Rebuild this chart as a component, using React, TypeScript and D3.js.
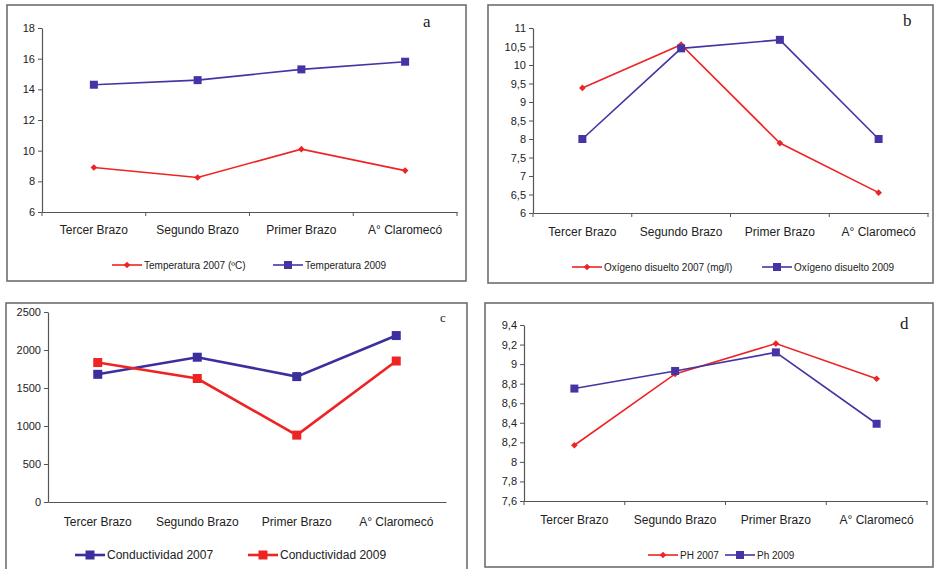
import { useEffect, useRef } from 'react';
import * as d3 from 'd3';

const categories = ['Tercer Brazo', 'Segundo Brazo', 'Primer Brazo', 'A° Claromecó'];

const temp2007 = [8.9, 8.25, 10.1, 8.7];
const temp2009 = [14.3, 14.6, 15.3, 15.8];
const oxy2007 = [9.38, 10.55, 7.89, 6.55];
const oxy2009 = [8.0, 10.45, 10.68, 8.0];
const cond2007 = [1680, 1905, 1650, 2190];
const cond2009 = [1835, 1625, 880, 1855];
const ph2007 = [8.17, 8.9, 9.21, 8.85];
const ph2009 = [8.75, 8.93, 9.12, 8.39];

const tempTicks = [6, 8, 10, 12, 14, 16, 18];
const oxyTicks = [6, 6.5, 7, 7.5, 8, 8.5, 9, 9.5, 10, 10.5, 11];
const condTicks = [0, 500, 1000, 1500, 2000, 2500];
const phTicks = [7.6, 7.8, 8, 8.2, 8.4, 8.6, 8.8, 9, 9.2, 9.4];

const RED = '#ee2424';
const BLUE = '#4634a4';

type Series = { name: string; values: number[]; color: string; marker: 'diamond' | 'square' };

interface PanelDef {
  letter: string;
  box: [number, number, number, number];
  plot: { x0: number; x1: number; top: number; bottom: number };
  ticks: number[];
  series: Series[];
  legendX: number[];
  legendY: number;
  labelY: number;
  letterPos: [number, number, number];
  catTicks: boolean;
  lineWidth: number;
  legendSize: number;
}

const panels: PanelDef[] = [
  {
    letter: 'a',
    box: [7, 5, 459, 276],
    plot: { x0: 42, x1: 457, top: 28, bottom: 212 },
    ticks: tempTicks,
    series: [
      { name: 'Temperatura 2007 (ºC)', values: temp2007, color: RED, marker: 'diamond' },
      { name: 'Temperatura 2009', values: temp2009, color: BLUE, marker: 'square' },
    ],
    legendX: [112, 273],
    legendY: 265,
    labelY: 234,
    letterPos: [423, 27, 17],
    catTicks: true,
    lineWidth: 1.6,
    legendSize: 10,
  },
  {
    letter: 'b',
    box: [488, 5, 445, 278],
    plot: { x0: 533, x1: 928, top: 28, bottom: 213 },
    ticks: oxyTicks,
    series: [
      { name: 'Oxígeno disuelto 2007 (mg/l)', values: oxy2007, color: RED, marker: 'diamond' },
      { name: 'Oxígeno disuelto 2009', values: oxy2009, color: BLUE, marker: 'square' },
    ],
    legendX: [572, 762],
    legendY: 267,
    labelY: 236,
    letterPos: [903, 26, 17],
    catTicks: true,
    lineWidth: 1.6,
    legendSize: 10,
  },
  {
    letter: 'c',
    box: [6, 303, 461, 268],
    plot: { x0: 48, x1: 446, top: 312, bottom: 502 },
    ticks: condTicks,
    series: [
      { name: 'Conductividad 2007', values: cond2007, color: '#3a2f9c', marker: 'square' },
      { name: 'Conductividad 2009', values: cond2009, color: RED, marker: 'square' },
    ],
    legendX: [75, 248],
    legendY: 555,
    labelY: 526,
    letterPos: [440, 322, 13],
    catTicks: false,
    lineWidth: 2.6,
    legendSize: 12,
  },
  {
    letter: 'd',
    box: [485, 303, 448, 264],
    plot: { x0: 524, x1: 927, top: 325, bottom: 501 },
    ticks: phTicks,
    series: [
      { name: 'PH 2007', values: ph2007, color: RED, marker: 'diamond' },
      { name: 'Ph 2009', values: ph2009, color: BLUE, marker: 'square' },
    ],
    legendX: [648, 725],
    legendY: 555,
    labelY: 524,
    letterPos: [900, 329, 17],
    catTicks: true,
    lineWidth: 1.6,
    legendSize: 10,
  },
];

const fmt = (d: number) => String(d).replace('.', ',');

export default function App() {
  const svgRef = useRef<SVGSVGElement>(null);

  useEffect(() => {
    if (!svgRef.current) return;
    const svg = d3.select(svgRef.current);
    svg.selectAll('*').remove();

    const font = "'Liberation Sans', Arial, sans-serif";

    panels.forEach((p) => {
      const g = svg.append('g');
      const [bx, by, bw, bh] = p.box;
      g.append('rect')
        .attr('x', bx)
        .attr('y', by)
        .attr('width', bw)
        .attr('height', bh)
        .attr('fill', 'white')
        .attr('stroke', '#6e6e6e')
        .attr('stroke-width', 1.6);

      const x = d3.scaleBand().domain(categories).range([p.plot.x0, p.plot.x1]);
      const y = d3
        .scaleLinear()
        .domain([p.ticks[0], p.ticks[p.ticks.length - 1]])
        .range([p.plot.bottom, p.plot.top]);

      const yAxis = g
        .append('g')
        .attr('transform', `translate(${p.plot.x0},0)`)
        .call(d3.axisLeft(y).tickValues(p.ticks).tickFormat((d) => fmt(d as number)).tickSize(4).tickSizeOuter(0).tickPadding(3));
      yAxis.select('.domain').attr('stroke', '#555').attr('stroke-width', 1.2);
      yAxis.selectAll('.tick line').attr('stroke', '#555');
      yAxis.selectAll('text').attr('font-family', font).attr('font-size', 11).attr('fill', '#222');

      const xAxis = g
        .append('g')
        .attr('transform', `translate(0,${p.plot.bottom})`)
        .call(d3.axisBottom(x).tickSize(0).tickSizeOuter(0).tickFormat(() => ''));
      xAxis.select('.domain').attr('stroke', '#555').attr('stroke-width', 1.2);
      xAxis.selectAll('.tick').remove();

      if (p.catTicks) {
        const bounds = categories.map((c) => x(c)!).concat([p.plot.x1]);
        g.selectAll('.cat-tick')
          .data(bounds)
          .enter()
          .append('line')
          .attr('x1', (d) => d)
          .attr('x2', (d) => d)
          .attr('y1', p.plot.bottom)
          .attr('y2', p.plot.bottom + 4)
          .attr('stroke', '#555');
      }

      g.selectAll('.cat-label')
        .data(categories)
        .enter()
        .append('text')
        .attr('x', (d) => x(d)! + x.bandwidth() / 2)
        .attr('y', p.labelY)
        .attr('text-anchor', 'middle')
        .attr('font-family', font)
        .attr('font-size', 12)
        .attr('fill', '#222')
        .text((d) => d);

      const drawMarker = (sel: d3.Selection<SVGGElement, unknown, null, undefined>, s: Series, cx: number, cy: number) => {
        if (s.marker === 'square') {
          const sz = p.letter === 'c' ? 9 : 8;
          sel.append('rect')
            .attr('x', cx - sz / 2)
            .attr('y', cy - sz / 2)
            .attr('width', sz)
            .attr('height', sz)
            .attr('fill', s.color);
        } else {
          sel.append('path')
            .attr('d', d3.symbol(d3.symbolSquare, 22)())
            .attr('transform', `translate(${cx},${cy}) rotate(45)`)
            .attr('fill', s.color);
        }
      };

      const line = d3
        .line<number>()
        .x((_, i) => x(categories[i])! + x.bandwidth() / 2)
        .y((d) => y(d));

      p.series.forEach((s) => {
        const sg = g.append('g');
        sg.append('path')
          .attr('d', line(s.values))
          .attr('fill', 'none')
          .attr('stroke', s.color)
          .attr('stroke-width', p.lineWidth);
        s.values.forEach((v, i) => drawMarker(sg as any, s, x(categories[i])! + x.bandwidth() / 2, y(v)));
      });

      // legend
      p.series.forEach((s, i) => {
        const lx = p.legendX[i];
        const lg = g.append('g');
        lg.append('line')
          .attr('x1', lx)
          .attr('x2', lx + 30)
          .attr('y1', p.legendY)
          .attr('y2', p.legendY)
          .attr('stroke', s.color)
          .attr('stroke-width', p.lineWidth);
        drawMarker(lg as any, s, lx + 15, p.legendY);
        lg.append('text')
          .attr('x', lx + 32)
          .attr('y', p.legendY + 3.8)
          .attr('font-family', font)
          .attr('font-size', p.legendSize)
          .attr('fill', '#222')
          .text(s.name);
      });

      g.append('text')
        .attr('x', p.letterPos[0])
        .attr('y', p.letterPos[1])
        .attr('font-family', "'Liberation Serif', 'Times New Roman', serif")
        .attr('font-size', p.letterPos[2])
        .attr('fill', '#222')
        .text(p.letter);
    });
  }, []);

  return (
    <div style={{ position: 'absolute', left: 0, top: 0 }}>
      <svg ref={svgRef} width={935} height={569} style={{ display: 'block', background: 'white' }} />
    </div>
  );
}
